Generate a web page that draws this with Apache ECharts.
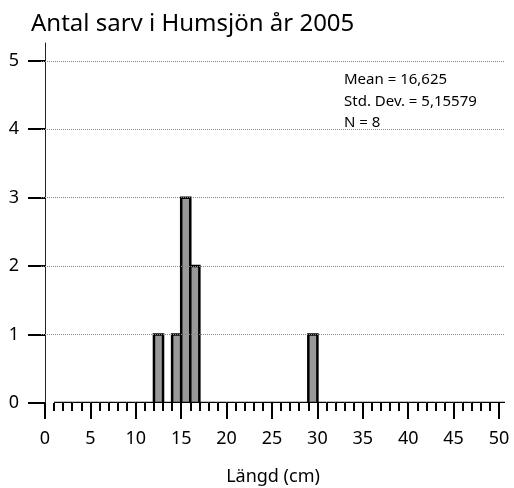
<!DOCTYPE html>
<html>
<head>
<meta charset="utf-8">
<script src="https://cdn.jsdelivr.net/npm/echarts@6/dist/echarts.min.js"></script>
<style>
  html, body { margin: 0; padding: 0; background: #fff; }
  #main { width: 514px; height: 488px; }
</style>
</head>
<body>
<div id="main"></div>
<script>
// histogram bins, 1 cm wide, starting at binStart
var binStart = [1, 2, 3, 4, 5, 6, 7, 8, 9, 10, 11, 12, 13, 14, 15, 16, 17, 18, 19, 20, 21, 22, 23, 24, 25,
                26, 27, 28, 29, 30, 31, 32, 33, 34, 35, 36, 37, 38, 39, 40, 41, 42, 43, 44, 45, 46, 47, 48, 49, 50];
var counts = [0, 0, 0, 0, 0, 0, 0, 0, 0, 0, 0, 1, 0, 1, 3, 2, 0, 0, 0, 0, 0, 0, 0, 0, 0,
              0, 0, 0, 1, 0, 0, 0, 0, 0, 0, 0, 0, 0, 0, 0, 0, 0, 0, 0, 0, 0, 0, 0, 0, 0];
var xMajorTicks = [0, 5, 10, 15, 20, 25, 30, 35, 40, 45, 50];
var xMinorTicks = [0, 1, 2, 3, 4, 5, 6, 7, 8, 9, 10, 11, 12, 13, 14, 15, 16, 17, 18, 19, 20, 21, 22, 23, 24, 25,
                   26, 27, 28, 29, 30, 31, 32, 33, 34, 35, 36, 37, 38, 39, 40, 41, 42, 43, 44, 45, 46, 47, 48, 49, 50];
var yTicks = [0, 1, 2, 3, 4, 5];
var gridLevels = [1, 2, 3, 4, 5];
var statsLines = ['Mean = 16,625', 'Std. Dev. = 5,15579', 'N = 8'];

var font = 'Noto Sans';
var bins = binStart.map(function (s, i) { return [s, s + 1, counts[i]]; });

var myChart = echarts.init(document.getElementById('main'));
myChart.setOption({
  animation: false,
  title: [
    { text: 'Antal sarv i Humsjön år 2005', left: 31, top: 12, padding: 0,
      textStyle: { fontFamily: font, fontSize: 24, fontWeight: 'normal', color: '#000' } },
    { text: statsLines.join('\n'), left: 344, top: 69, padding: 0,
      textStyle: { fontFamily: font, fontSize: 15, fontWeight: 'normal', color: '#000', lineHeight: 21.5 } }
  ],
  grid: { left: 41, right: 9, top: 43, bottom: 85, outerBoundsMode: 'none', containLabel: false },
  xAxis: [
    {
      type: 'value', min: -0.44, max: 50.66,
      name: 'Längd (cm)', nameLocation: 'middle', nameGap: 65,
      nameTextStyle: { fontFamily: font, fontSize: 18, color: '#000' },
      axisLine: { show: false },
      axisTick: { customValues: xMajorTicks, length: 16, lineStyle: { color: '#000', width: 2 } },
      axisLabel: { customValues: xMajorTicks, margin: 27, fontFamily: font, fontSize: 18, color: '#000' },
      splitLine: { show: false }
    },
    {
      type: 'value', min: -0.44, max: 50.66, position: 'bottom',
      axisLine: { show: false },
      axisTick: { customValues: xMinorTicks, length: 8, lineStyle: { color: '#000', width: 2 } },
      axisLabel: { show: false },
      splitLine: { show: false }
    }
  ],
  yAxis: {
    type: 'value', min: 0, max: 5.26,
    axisLine: { show: true, lineStyle: { color: '#222', width: 1 } },
    axisTick: { customValues: yTicks, length: 17, lineStyle: { color: '#000', width: 2 } },
    axisLabel: { customValues: yTicks, margin: 22, fontFamily: font, fontSize: 18, color: '#000' },
    splitLine: { show: false }
  },
  series: [
    {
      type: 'custom',
      clip: true,
      data: bins,
      renderItem: function (params, api) {
        var top = api.coord([api.value(0), api.value(2)]);
        var bot = api.coord([api.value(1), 0]);
        return {
          type: 'rect',
          shape: { x: top[0], y: top[1], width: bot[0] - top[0], height: bot[1] - top[1] },
          style: { fill: '#999', stroke: '#000', lineWidth: 2.5 }
        };
      },
      markLine: {
        silent: true, symbol: 'none', label: { show: false },
        lineStyle: { color: '#888', type: [1, 1], width: 1 },
        data: gridLevels.map(function (v) { return { yAxis: v }; })
      },
      z: 3
    }
  ]
});
</script>
</body>
</html>
